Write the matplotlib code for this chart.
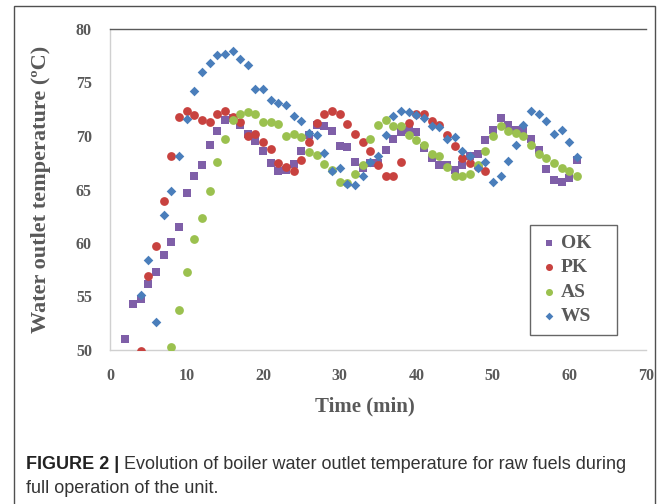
import matplotlib
matplotlib.use("Agg")
import matplotlib.pyplot as plt
from matplotlib.patches import Rectangle

# ---- data ----
ok_t = list(range(2, 62))
ok_v = [51.0, 54.3, 54.8, 56.2, 57.3, 58.9, 60.1, 61.5, 64.7, 66.3,
        67.3, 69.2, 70.5, 71.5, 71.7, 71.0, 70.2, 69.5, 68.6, 67.45,
        66.7, 66.8, 67.4, 68.6, 70.1, 71.0, 70.9, 70.5, 69.1, 68.95,
        67.6, 67.0, 67.5, 67.5, 68.7, 69.7, 70.4, 70.6, 70.35, 68.9,
        67.9, 67.3, 67.3, 66.8, 67.3, 68.1, 68.3, 69.6, 70.6, 71.65,
        71.0, 70.6, 70.5, 69.7, 68.7, 66.9, 65.9, 65.7, 66.1, 67.75]

pk_t = list(range(4, 50))
pk_v = [49.9, 56.95, 59.7, 63.9, 68.1, 71.8, 72.3, 71.96, 71.5, 71.3,
        72.06, 72.3, 71.8, 71.3, 70.0, 70.2, 69.4, 68.8, 67.5, 67.1,
        66.7, 67.75, 69.4, 71.25, 72.1, 72.3, 72.06, 71.1, 70.2, 69.4,
        68.6, 67.3, 66.3, 66.3, 67.6, 71.25, 72.1, 72.1, 71.4, 71.0,
        70.1, 69.1, 67.9, 67.45, 67.1, 66.75]

as_t = list(range(8, 62))
as_v = [50.3, 53.7, 57.25, 60.4, 62.3, 64.9, 67.6, 69.7, 71.5, 72.06,
        72.2, 72.1, 71.3, 71.3, 71.1, 70.0, 70.2, 69.9, 68.5, 68.2,
        67.4, 66.8, 65.7, 65.6, 66.45, 67.3, 69.7, 71.0, 71.5, 70.9,
        70.9, 70.1, 69.6, 69.2, 68.3, 68.1, 67.1, 66.3, 66.3, 66.45,
        67.3, 68.6, 70.0, 70.9, 70.45, 70.25, 70.0, 69.15, 68.3, 67.9,
        67.5, 67.0, 66.75, 66.3]

ws_t = list(range(4, 62))
ws_v = [55.1, 58.4, 52.6, 62.6, 64.9, 68.1, 71.6, 74.2, 76.0, 76.8,
        77.6, 77.7, 77.9, 77.15, 76.6, 74.4, 74.4, 73.4, 73.1, 72.9,
        71.9, 71.4, 70.3, 70.1, 68.4, 66.7, 67.0, 65.5, 65.45, 66.3,
        67.6, 68.1, 70.1, 71.9, 72.3, 72.2, 71.96, 71.65, 70.9, 70.8,
        69.7, 69.9, 68.6, 68.1, 67.0, 67.6, 65.7, 66.3, 67.7, 69.2,
        71.0, 72.3, 72.06, 71.4, 70.2, 70.55, 69.4, 68.0]

x_ticks = [0, 10, 20, 30, 40, 50, 60, 70]
y_ticks = [50, 55, 60, 65, 70, 75, 80]

# ---- figure ----
W, H = 669, 504
fig = plt.figure(figsize=(W / 100, H / 100), dpi=100)
ax = fig.add_axes([110 / W, 1 - 350 / H, (646 - 110) / W, (350 - 29) / H])

serif = ["Liberation Serif", "DejaVu Serif"]
gray_txt = "#595959"

ax.scatter(ok_t, ok_v, marker="s", s=34, color="#7F5FA8", label="OK", zorder=3, linewidths=0)
ax.scatter(pk_t, pk_v, marker="o", s=40, color="#C8423F", label="PK", zorder=3, linewidths=0)
ax.scatter(as_t, as_v, marker="o", s=40, color="#9BC14F", label="AS", zorder=3, linewidths=0)
ax.scatter(ws_t, ws_v, marker="D", s=24, color="#4A7EBB", label="WS", zorder=3, linewidths=0)

ax.set_xlim(0, 70)
ax.set_ylim(50, 80)
ax.set_xticks(x_ticks)
ax.set_yticks(y_ticks)
ax.tick_params(length=0, pad=13, labelsize=11.5, labelcolor=gray_txt)
for lab in ax.get_xticklabels() + ax.get_yticklabels():
    lab.set_fontfamily(serif)
    lab.set_fontweight("bold")

for side in ["left", "bottom"]:
    ax.spines[side].set_color("#D0D0D0")
    ax.spines[side].set_linewidth(1.0)
ax.spines["top"].set_color("#5A5A5A")
ax.spines["top"].set_linewidth(1.0)
ax.spines["right"].set_visible(False)

ax.set_xlabel("Time (min)", fontsize=15, fontweight="bold", family=serif,
              color=gray_txt)
ax.xaxis.set_label_coords((365 - 110) / 536, -(396 - 350) / 321)
ax.set_ylabel("Water outlet temperature (ºC)", fontsize=16, fontweight="bold",
              family=serif, color=gray_txt)
ax.yaxis.set_label_coords(-(110 - 51) / 536, 0.5)

leg = ax.legend(loc="lower left", bbox_to_anchor=((530 - 110) / 536, (350 - 335) / 321,
                                                 (617 - 530) / 536, (335 - 227) / 321),
                mode="expand", frameon=True, fancybox=False, borderaxespad=0,
                prop={"family": serif, "weight": "bold", "size": 14},
                handletextpad=0.1, labelspacing=0.35, markerscale=0.8,
                handlelength=1.0, borderpad=0.5)
leg.get_frame().set_edgecolor("#404040")
leg.get_frame().set_linewidth(1.0)
for t in leg.get_texts():
    t.set_color(gray_txt)

# outer figure frame
fig.patches.append(Rectangle((14 / W, -0.05), (655 - 14) / W, 1.05 - 6 / H,
                             transform=fig.transFigure, fill=False,
                             edgecolor="#505050", linewidth=1.0))

# caption
cap_font = ["Liberation Sans", "DejaVu Sans"]
t1 = fig.text(26 / W, 1 - 469 / H, "FIGURE 2 |", fontsize=13, fontweight="bold",
              family=cap_font, color="#222222", va="baseline")
ax.annotate(" Evolution of boiler water outlet temperature for raw fuels during",
            xy=(1, 0), xycoords=t1, fontsize=13, family=cap_font,
            color="#333333", va="bottom", annotation_clip=False)
fig.text(26 / W, 1 - 493 / H, "full operation of the unit.", fontsize=13,
         family=cap_font, color="#333333", va="baseline")

fig.savefig("out.png", dpi=100)
